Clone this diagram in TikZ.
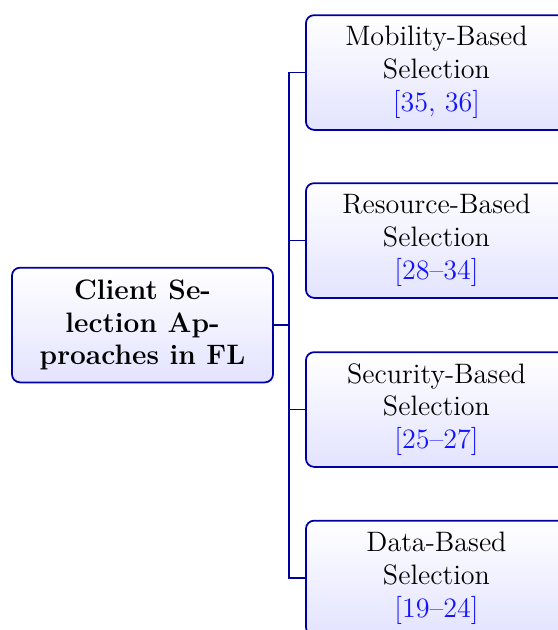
\documentclass[tikz,border=0pt]{standalone}
\usetikzlibrary{positioning}
\definecolor{edgeblue}{RGB}{0,0,160}
\definecolor{citeblue}{RGB}{20,20,255}
\tikzset{
  box/.style={draw=edgeblue, line width=0.75pt, rounded corners=3.5pt,
    top color=white, bottom color=blue!11, align=center,
    minimum width=111.5pt, minimum height=49pt, inner sep=2pt, font=\large},
  link/.style={draw=edgeblue, line width=0.75pt}
}
\newcommand{\citeb}[1]{{\color{citeblue}#1}}
\begin{document}
\begin{tikzpicture}[x=0.427pt,y=-0.427pt]
\useasboundingbox (0,0) rectangle (558,630);
\node[box, font=\large\bfseries] (root) at (142.5,325) {Client Se-\\lection Ap-\\proaches in FL};
\node[box] (mob) at (436.5,72.5) {Mobility-Based\\Selection\\\citeb{[35, 36]}};
\node[box] (res) at (436.5,240.5) {Resource-Based\\Selection\\\citeb{[28--34]}};
\node[box] (sec) at (436.5,409.5) {Security-Based\\Selection\\\citeb{[25--27]}};
\node[box] (dat) at (436.5,578) {Data-Based\\Selection\\\citeb{[19--24]}};
\coordinate (j) at (289,325);
\draw[link] (root.east) -- (j);
\foreach \n in {mob,res,sec,dat}
  \draw[link] (j) |- (\n.west);
\end{tikzpicture}
\end{document}
